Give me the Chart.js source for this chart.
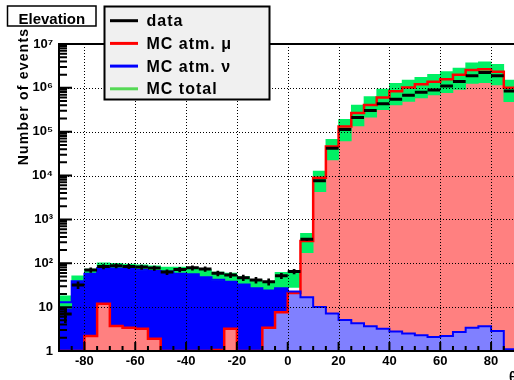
<!DOCTYPE html>
<html>
<head>
<meta charset="utf-8">
<script src="https://cdn.jsdelivr.net/npm/chart.js@4.4.1/dist/chart.umd.min.js"></script>
<style>
  html, body { margin: 0; padding: 0; overflow: hidden; background: #ffffff; }
  #wrap { width: 520px; height: 380px; }
</style>
</head>
<body>
<div id="wrap"><canvas id="c" width="520" height="380"></canvas></div>
<script>
// ---------------- data ----------------
const binEdges = [-90,-85,-80,-75,-70,-65,-60,-55,-50,-45,-40,-35,-30,-25,-20,-15,-10,-5,
                  0,5,10,15,20,25,30,35,40,45,50,55,60,65,70,75,80,85,90];

const muValues = [0,0,2.2,12,3.7,3.4,3.2,1.9,0,0,0,0,1.05,3.2,0,0,3.4,7.6,
                  21,322,8900,46000,131000,267000,406000,603000,834000,1020000,1210000,
                  1380000,1570000,1980000,2550000,2660000,2330000,1010000];

const nuValues = [13,39,58,78,76,74,71,67,65,58,56,48,42,38,33,27,24,27,
                  22.7,16.8,10.1,7.2,5.1,4.3,3.66,3.2,2.8,2.5,2.28,2.08,2.2,2.7,3.4,3.66,2.86,1.1];

const totalLow  = [9.5,39,58,78,76,74,71,67,65,58,56,48,42,38,33,27,24,27,
                   28,174,4290,22600,61400,135000,216000,320000,406000,488000,587000,687000,
                   774000,926000,1270000,1310000,1160000,483000];
const totalHigh = [18,52,74,102,100,96,92,87,82,82,80,72,63,60,50,42,36,62,
                   64,483,12700,67100,192000,406000,635000,941000,1270000,1510000,1740000,2040000,
                   2360000,2830000,3740000,3940000,3440000,1510000];

const dataValues = [7,32,70,84,88,85,82,78,63,72,79,74,59,54,47,41.5,38,52,
                    65,352,7640,41900,113000,211000,304000,435000,548000,679000,796000,893000,
                    1100000,1400000,1890000,2240000,1890000,847000];
const dataErrors = [2.6,5.7,8.4,9.2,9.4,9.2,9.1,8.8,7.9,8.5,8.9,8.6,7.7,7.3,6.9,6.4,6.2,7.2,
                    8.1,19,87,205,336,459,551,660,740,824,892,945,1049,1183,1375,1497,1375,920];

const xTickValues = [-80,-60,-40,-20,0,20,40,60,80];
const yTickValues = [1,10,100,1000,10000,100000,1000000,10000000];
const yTickLabels = ['1','10','10\u00B2','10\u00B3','10\u2074','10\u2075','10\u2076','10\u2077'];

const legendLabels = ['data','MC atm. \u03BC','MC atm. \u03BD','MC total'];
const legendColors = ['#000000','#ff0000','#0000ff','#55d955'];
const titleText = 'Elevation';
const xTitle = '\u03B8';
const yTitle = 'Number of events';

// colour split: overlap region drawn pink left of this edge, light blue from it on
const splitEdge = -10;

// ---------------- styles ----------------
const PINK = '#ff8080', LIGHTBLUE = '#8080ff', BLUE = '#0000ff', RED = '#ff0000', GREEN = '#00f064';
const AXIS_MIN = 1, AXIS_MAX = 1e7;

// ---------------- tables for the library ----------------
const centers = binEdges.slice(0, -1).map((e, i) => (e + binEdges[i + 1]) / 2);
const clampLog = v => (v > AXIS_MIN ? v : AXIS_MIN);
function stepPoints(vals, keep) {
  const pts = vals.map((v, i) => ({ x: binEdges[i], y: keep(i) ? clampLog(v) : AXIS_MIN }));
  const last = vals.length - 1;
  pts.push({ x: binEdges[last + 1], y: keep(last) ? clampLog(vals[last]) : AXIS_MIN });
  return pts;
}
const overlap = muValues.map((m, i) => Math.min(m, nuValues[i]));
const all = () => true;

const fillBase = { type: 'line', stepped: 'before', borderColor: 'rgba(0,0,0,0)', borderWidth: 1,
                   fill: 'start', pointRadius: 0 };

const datasets = [
  Object.assign({}, fillBase, { label: 'mu fill', data: stepPoints(muValues, all), backgroundColor: PINK, order: 10 }),
  Object.assign({}, fillBase, { label: 'nu fill', data: stepPoints(nuValues, all), backgroundColor: BLUE, order: 9 }),
  Object.assign({}, fillBase, { label: 'overlap left', data: stepPoints(overlap, i => binEdges[i] < splitEdge), backgroundColor: PINK, order: 8 }),
  Object.assign({}, fillBase, { label: 'overlap right', data: stepPoints(overlap, i => binEdges[i] >= splitEdge), backgroundColor: LIGHTBLUE, order: 7 }),
  { type: 'bar', label: legendLabels[3], data: centers.map((c, i) => ({ x: c, y: [totalLow[i], totalHigh[i]] })),
    backgroundColor: GREEN, borderWidth: 0, barPercentage: 1, categoryPercentage: 1, grouped: false, order: 6 },
  { type: 'line', label: legendLabels[1], data: stepPoints(muValues, all), stepped: 'before', borderColor: RED,
    borderWidth: 2.5, fill: false, pointRadius: 0, order: 5 },
  { type: 'line', label: legendLabels[2], data: stepPoints(nuValues, all), stepped: 'before', borderColor: BLUE,
    borderWidth: 2, fill: false, pointRadius: 0, order: 4 },
  { type: 'bar', label: 'data errors', data: centers.map((c, i) => ({ x: c, y: [dataValues[i] - dataErrors[i], dataValues[i] + dataErrors[i]] })),
    backgroundColor: '#000000', borderWidth: 0, barThickness: 2, grouped: false, order: 3 },
  { type: 'line', label: legendLabels[0], data: centers.map((c, i) => ({ x: c, y: dataValues[i] })), showLine: false,
    pointStyle: 'line', pointBorderColor: '#000000', pointBackgroundColor: '#000000', pointBorderWidth: 3,
    pointRadius: ctx => { const s = ctx.chart.scales.x; return Math.abs(s.getPixelForValue(binEdges[1]) - s.getPixelForValue(binEdges[0])) / 2; },
    order: 2 }
];

// ---------------- ROOT-like decorations ----------------
const rootStyle = {
  id: 'rootStyle',
  afterDatasetsDraw(chart) {
    const { ctx, chartArea: a, scales: { x, y } } = chart;
    ctx.save();
    // dotted grid
    ctx.strokeStyle = '#000'; ctx.lineWidth = 1; ctx.setLineDash([1, 2]);
    ctx.beginPath();
    xTickValues.forEach(v => { const px = Math.round(x.getPixelForValue(v)) + 0.5; ctx.moveTo(px, a.top); ctx.lineTo(px, a.bottom); });
    yTickValues.forEach(v => { if (v <= AXIS_MIN || v >= AXIS_MAX) return; const py = Math.round(y.getPixelForValue(v)) + 0.5; ctx.moveTo(a.left, py); ctx.lineTo(a.right, py); });
    ctx.stroke();
    ctx.setLineDash([]);
    // inward ticks
    ctx.lineWidth = 2; ctx.beginPath();
    yTickValues.forEach(d => {
      if (d >= AXIS_MAX) { const py = y.getPixelForValue(d); ctx.moveTo(a.left, py); ctx.lineTo(a.left + 13, py); return; }
      for (let k = 1; k < 10; k++) {
        const py = y.getPixelForValue(d * k);
        ctx.moveTo(a.left, py); ctx.lineTo(a.left + (k === 1 ? 13 : 8), py);
      }
    });
    binEdges.forEach(v => {
      if (v <= x.min || v >= x.max) return;
      const px = x.getPixelForValue(v);
      ctx.moveTo(px, a.bottom); ctx.lineTo(px, a.bottom - (xTickValues.includes(v) ? 9 : 5));
    });
    ctx.stroke();
    // frame
    ctx.lineWidth = 2; ctx.strokeStyle = '#000';
    ctx.strokeRect(a.left, a.top, a.right - a.left, a.bottom - a.top);
    ctx.restore();
  },
  afterDraw(chart) {
    const { ctx, chartArea: a } = chart;
    ctx.save();
    // title box
    ctx.fillStyle = '#ffffff'; ctx.fillRect(7.5, 6, 88.5, 20);
    ctx.strokeStyle = '#000'; ctx.lineWidth = 1.5; ctx.strokeRect(7.5, 6, 88.5, 20);
    ctx.fillStyle = '#000'; ctx.font = 'bold 15px "Liberation Sans"'; ctx.textAlign = 'center'; ctx.textBaseline = 'alphabetic';
    ctx.fillText(titleText, 51.8, 24);
    // legend
    ctx.fillStyle = '#f0f0f0'; ctx.fillRect(104.5, 6.5, 165, 93);
    ctx.strokeStyle = '#000'; ctx.lineWidth = 2; ctx.strokeRect(104.5, 6.5, 165, 93);
    ctx.textAlign = 'left';
    ctx.font = 'bold 16px "Liberation Sans"';
    try { ctx.letterSpacing = '1px'; } catch (e) {}
    legendLabels.forEach((t, i) => {
      const cy = 20.7 + i * 22.7;
      ctx.strokeStyle = legendColors[i]; ctx.lineWidth = 3;
      ctx.beginPath(); ctx.moveTo(110, cy); ctx.lineTo(138, cy); ctx.stroke();
      ctx.fillStyle = '#000'; ctx.fillText(t, 146.5, cy + 5.6);
    });
    // axis titles
    ctx.font = 'bold 14px "Liberation Sans"';
    try { ctx.letterSpacing = '1.2px'; } catch (e) {}
    ctx.save();
    ctx.translate(28.3, 96.5); ctx.rotate(-Math.PI / 2);
    ctx.textAlign = 'center'; ctx.fillText(yTitle, 0, 0);
    ctx.restore();
    try { ctx.letterSpacing = '0px'; } catch (e) {}
    ctx.textAlign = 'right'; ctx.fillText(xTitle, a.right, 382);
    ctx.restore();
  }
};

const tickFont = { family: 'Liberation Sans', weight: 'bold', size: 13 };

new Chart(document.getElementById('c'), {
  type: 'line',
  data: { datasets },
  options: {
    responsive: false,
    animation: false,
    events: [],
    layout: { padding: { top: 44, right: 3.5, left: 0, bottom: 0 } },
    plugins: { legend: { display: false }, tooltip: { enabled: false }, title: { display: false } },
    scales: {
      x: {
        type: 'linear', min: -90, max: 90, offset: false,
        grid: { display: false, drawTicks: false }, border: { display: false },
        afterBuildTicks: s => { s.ticks = xTickValues.map(v => ({ value: v })); },
        afterFit: s => { s.height = 29; },
        ticks: { font: tickFont, color: '#000', padding: 3, maxRotation: 0, autoSkip: false }
      },
      y: {
        type: 'logarithmic', min: AXIS_MIN, max: AXIS_MAX,
        grid: { display: false, drawTicks: false }, border: { display: false },
        afterBuildTicks: s => { s.ticks = yTickValues.map(v => ({ value: v })); },
        afterFit: s => { s.width = 59; },
        ticks: { font: tickFont, color: '#000', padding: 6, autoSkip: false,
                 callback: v => yTickLabels[yTickValues.indexOf(v)] }
      }
    }
  },
  plugins: [rootStyle]
});
</script>
</body>
</html>
